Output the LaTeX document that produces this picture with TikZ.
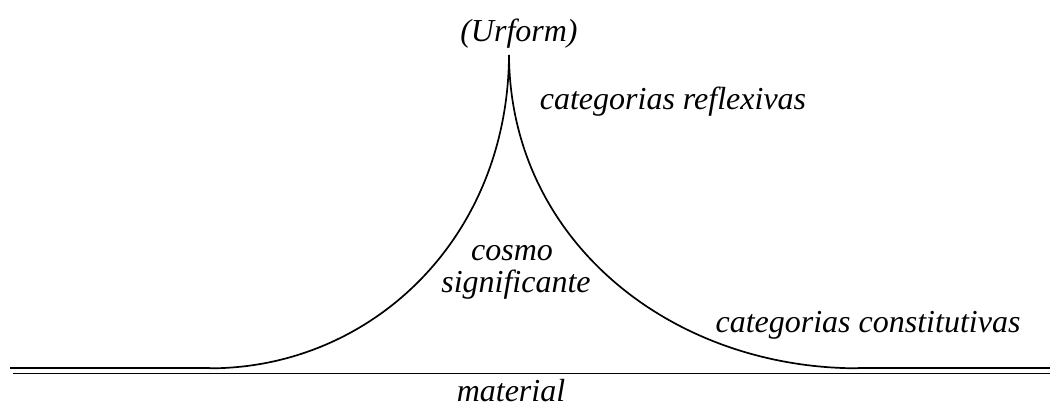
\documentclass[tikz,border=0pt]{standalone}
\usepackage{fontspec}
\setmainfont{Liberation Serif}

\begin{document}
\begin{tikzpicture}[x=1pt,y=-1pt,
  lbl/.style={font=\fontsize{32}{34}\selectfont\itshape,inner sep=0pt,anchor=base},
  ln/.style={line width=1.7pt}]
  \useasboundingbox (0,0) rectangle (1050,407);
  \coordinate (cusp) at (509,55);
  \coordinate (lfoot) at (210,368.3);
  \coordinate (rfoot) at (858,368.3);
  \coordinate (lend) at (10,368.3);
  \coordinate (rend) at (1050,368.3);
  \coordinate (gl) at (13,373.5);
  \coordinate (gr) at (1050,373.5);
  \node[lbl] (urform) at (519,41) {(Urform)};
  \node[lbl] (refl) at (673,109) {categorias reflexivas};
  \node[lbl] (cosmo) at (512,260) {cosmo};
  \node[lbl] (signif) at (516,292) {significante};
  \node[lbl] (const) at (868,332) {categorias constitutivas};
  \node[lbl] (mat) at (511,401) {material};
  \draw[ln] (lend) -- (lfoot);
  \draw[ln] (lfoot) .. controls (370,368.3) and (508,240) .. (cusp);
  \draw[ln] (cusp) .. controls (510,240) and (670,368.3) .. (rfoot);
  \draw[ln] (rfoot) -- (rend);
  \draw[ln] (gl) -- (gr);
\end{tikzpicture}
\end{document}
